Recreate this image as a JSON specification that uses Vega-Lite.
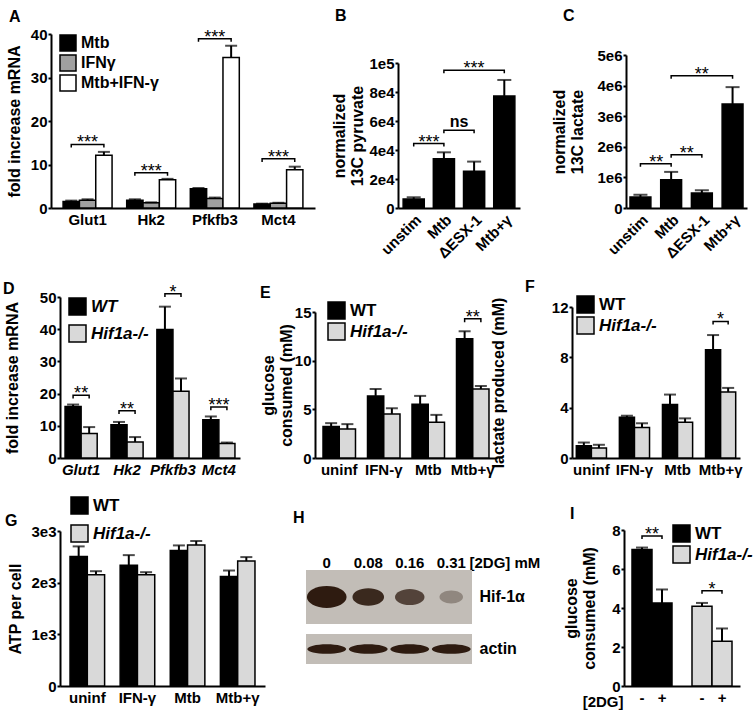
{
"$schema":"https://vega.github.io/schema/vega-lite/v6.json",
"padding":{"left":3,"top":8,"right":5,"bottom":5},
"config":{
 "view":{"stroke":null},
 "font":"Liberation Sans",
 "axis":{"labelFont":"Liberation Sans","titleFont":"Liberation Sans","labelFontSize":15,"labelFontWeight":"bold","labelColor":"black","titleFontSize":16,"titleFontWeight":"bold","titleColor":"black","domainColor":"black","domainWidth":2,"tickColor":"black","tickWidth":2,"tickSize":3,"labelPadding":1,"grid":false,"titlePadding":6,"labelOverlap":false,"titleLineHeight":18},
 "axisX":{"ticks":false,"labelPadding":4,"labelAngle":0},
 "legend":{"labelFont":"Liberation Sans","labelFontSize":16,"labelFontWeight":"bold","labelColor":"black","symbolType":"square","symbolSize":289,"symbolStrokeColor":"black","symbolStrokeWidth":1.5,"symbolOpacity":1,"orient":"none","padding":0,"labelOffset":4,"rowPadding":3,"titleFont":"Liberation Sans","titleFontSize":16,"titleFontWeight":"bold","titleColor":"black"},
 "title":{"font":"Liberation Sans","fontSize":16,"fontWeight":"bold","anchor":"start","color":"black","frame":"group"},
 "text":{"font":"Liberation Sans","color":"black"}
},
"resolve":{"scale":{"fill":"independent","xOffset":"independent","size":"independent","shape":"independent","opacity":"independent"},"legend":{"fill":"independent"}},
"spacing":19,
"vconcat":[
{"spacing":22,"resolve":{"scale":{"fill":"independent","xOffset":"independent","size":"independent","shape":"independent","opacity":"independent"},"legend":{"fill":"independent"}},"vconcat":[
{"spacing":83,"bounds":"flush","resolve":{"scale":{"fill":"independent","xOffset":"independent"},"legend":{"fill":"independent"}},"hconcat":[
 {"title":{"text":"A","offset":2,"dx":-51},"width":255,"height":174,
  "layer":[
   {"data":{"values":[
    {"gene":"Glut1","cond":"Mtb","mean":1.5,"upper":1.7},
    {"gene":"Glut1","cond":"IFNγ","mean":1.8,"upper":2.0},
    {"gene":"Glut1","cond":"Mtb+IFN-γ","mean":12.1,"upper":12.9},
    {"gene":"Hk2","cond":"Mtb","mean":1.8,"upper":2.0},
    {"gene":"Hk2","cond":"IFNγ","mean":1.2,"upper":1.3},
    {"gene":"Hk2","cond":"Mtb+IFN-γ","mean":6.5,"upper":6.7},
    {"gene":"Pfkfb3","cond":"Mtb","mean":4.4,"upper":4.6},
    {"gene":"Pfkfb3","cond":"IFNγ","mean":2.2,"upper":2.4},
    {"gene":"Pfkfb3","cond":"Mtb+IFN-γ","mean":34.6,"upper":37.3},
    {"gene":"Mct4","cond":"Mtb","mean":0.9,"upper":1.0},
    {"gene":"Mct4","cond":"IFNγ","mean":1.1,"upper":1.2},
    {"gene":"Mct4","cond":"Mtb+IFN-γ","mean":8.8,"upper":9.5}]},
    "layer":[
     {"mark":{"type":"bar","stroke":"black","strokeWidth":1.5},
      "encoding":{
       "x":{"field":"gene","type":"nominal","title":null,"scale":{"domain":["Glut1","Hk2","Pfkfb3","Mct4"],"range":[-9,255],"paddingInner":0.23,"paddingOuter":0.19}},
       "xOffset":{"field":"cond","type":"nominal","scale":{"domain":["Mtb","IFNγ","Mtb+IFN-γ"],"paddingInner":0,"paddingOuter":0}},
       "y":{"field":"mean","type":"quantitative","title":"fold increase mRNA","scale":{"domain":[0,40],"nice":false},"axis":{"values":[0,10,20,30,40],"format":"d","tickCount":20,"offset":9,"labelOverlap":false,"titleX":-29}},
       "fill":{"field":"cond","type":"nominal","scale":{"domain":["Mtb","IFNγ","Mtb+IFN-γ"],"range":["#000000","#a0a0a0","#ffffff"]},"legend":{"title":null,"legendX":-1,"legendY":0,"symbolSize":256,"rowPadding":-2}}}},
     {"mark":{"type":"rule","strokeWidth":2,"color":"black"},
      "encoding":{
       "x":{"field":"gene","type":"nominal","title":null},
       "xOffset":{"field":"cond","type":"nominal"},
       "y":{"field":"mean","type":"quantitative","title":"fold increase mRNA"},
       "y2":{"field":"upper"}}},
     {"mark":{"type":"tick","color":"black","thickness":2,"size":12},
      "encoding":{
       "x":{"field":"gene","type":"nominal","title":null},
       "xOffset":{"field":"cond","type":"nominal"},
       "y":{"field":"upper","type":"quantitative","title":"fold increase mRNA"}}}
    ]},
   {"data":{"values":[
    {"gene":"Glut1","cond":"Mtb","y":13.9,"o":1},{"gene":"Glut1","cond":"Mtb","y":14.6,"o":2},{"gene":"Glut1","cond":"Mtb+IFN-γ","y":14.6,"o":3},{"gene":"Glut1","cond":"Mtb+IFN-γ","y":13.9,"o":4},
    {"gene":"Hk2","cond":"Mtb","y":7.4,"o":1},{"gene":"Hk2","cond":"Mtb","y":8.1,"o":2},{"gene":"Hk2","cond":"Mtb+IFN-γ","y":8.1,"o":3},{"gene":"Hk2","cond":"Mtb+IFN-γ","y":7.4,"o":4},
    {"gene":"Pfkfb3","cond":"Mtb","y":38.2,"o":1},{"gene":"Pfkfb3","cond":"Mtb","y":38.9,"o":2},{"gene":"Pfkfb3","cond":"Mtb+IFN-γ","y":38.9,"o":3},{"gene":"Pfkfb3","cond":"Mtb+IFN-γ","y":38.2,"o":4},
    {"gene":"Mct4","cond":"Mtb","y":10.6,"o":1},{"gene":"Mct4","cond":"Mtb","y":11.3,"o":2},{"gene":"Mct4","cond":"Mtb+IFN-γ","y":11.3,"o":3},{"gene":"Mct4","cond":"Mtb+IFN-γ","y":10.6,"o":4}]},
    "mark":{"type":"line","color":"black","strokeWidth":1.5},
    "encoding":{
     "x":{"field":"gene","type":"nominal","title":null},
     "xOffset":{"field":"cond","type":"nominal"},
     "y":{"field":"y","type":"quantitative","title":"fold increase mRNA"},
     "detail":{"field":"gene"},
     "order":{"field":"o","type":"quantitative"}}},
   {"data":{"values":[
    {"gene":"Glut1","cond":"IFNγ","y":14.6,"lab":"***"},
    {"gene":"Hk2","cond":"IFNγ","y":8.1,"lab":"***"},
    {"gene":"Pfkfb3","cond":"IFNγ","y":38.9,"lab":"***"},
    {"gene":"Mct4","cond":"IFNγ","y":11.3,"lab":"***"}]},
    "mark":{"type":"text","fontSize":18,"baseline":"alphabetic","dy":4},
    "encoding":{
     "x":{"field":"gene","type":"nominal","title":null},
     "xOffset":{"field":"cond","type":"nominal"},
     "y":{"field":"y","type":"quantitative","title":"fold increase mRNA"},
     "text":{"field":"lab"}}}
  ]},
 {"spacing":106,"bounds":"flush","hconcat":[
  {"title":{"text":"B","offset":10,"dx":-63},"width":122,"height":174,
   "layer":[
    {"data":{"values":[
     {"cat":"unstim","mean":6200,"upper":7400},
     {"cat":"Mtb","mean":34000,"upper":38400},
     {"cat":"ΔESX-1","mean":25300,"upper":32000},
     {"cat":"Mtb+γ","mean":77300,"upper":88300}]},
     "layer":[
      {"mark":{"type":"bar","color":"black","stroke":"black","strokeWidth":1.5},
       "encoding":{
        "x":{"field":"cat","type":"nominal","title":null,"scale":{"domain":["unstim","Mtb","ΔESX-1","Mtb+γ"],"paddingInner":0.3,"paddingOuter":0.17},"axis":{"labelAngle":-45}},
        "y":{"field":"mean","type":"quantitative","title":["normalized","13C pyruvate"],"scale":{"domain":[0,100000],"nice":false,"range":[174,29]},"axis":{"values":[0,20000,40000,60000,80000,100000],"tickCount":20,"labelOverlap":false,"titleX":-51,"labelExpr":"datum.value == 0 ? '0' : datum.value >= 100000 ? '1e5' : (datum.value/10000) + 'e4'"}}}},
      {"mark":{"type":"rule","strokeWidth":2,"color":"black"},
       "encoding":{"x":{"field":"cat","type":"nominal","title":null},"y":{"field":"mean","type":"quantitative","title":["normalized","13C pyruvate"]},"y2":{"field":"upper"}}},
      {"mark":{"type":"tick","color":"black","thickness":2,"size":14},
       "encoding":{"x":{"field":"cat","type":"nominal","title":null},"y":{"field":"upper","type":"quantitative","title":["normalized","13C pyruvate"]}}}
     ]},
    {"data":{"values":[
     {"b":1,"cat":"unstim","y":42400,"o":1},{"b":1,"cat":"unstim","y":44400,"o":2},{"b":1,"cat":"Mtb","y":44400,"o":3},{"b":1,"cat":"Mtb","y":42400,"o":4},
     {"b":2,"cat":"Mtb","y":51600,"o":1},{"b":2,"cat":"Mtb","y":53600,"o":2},{"b":2,"cat":"ΔESX-1","y":53600,"o":3},{"b":2,"cat":"ΔESX-1","y":51600,"o":4},
     {"b":3,"cat":"Mtb","y":93000,"o":1},{"b":3,"cat":"Mtb","y":95000,"o":2},{"b":3,"cat":"Mtb+γ","y":95000,"o":3},{"b":3,"cat":"Mtb+γ","y":93000,"o":4}]},
     "mark":{"type":"line","color":"black","strokeWidth":1.5},
     "encoding":{"x":{"field":"cat","type":"nominal","title":null},"y":{"field":"y","type":"quantitative","title":["normalized","13C pyruvate"]},"detail":{"field":"b"},"order":{"field":"o","type":"quantitative"}}},
    {"data":{"values":[{"cat":"ΔESX-1","y":95000,"lab":"***"}]},
     "mark":{"type":"text","fontSize":18,"baseline":"alphabetic","dy":4},
     "encoding":{"x":{"field":"cat","type":"nominal","title":null},"y":{"field":"y","type":"quantitative","title":["normalized","13C pyruvate"]},"text":{"field":"lab"}}},
    {"data":{"values":[{"cat":"Mtb","y":44400,"lab":"***"}]},
     "mark":{"type":"text","fontSize":18,"baseline":"alphabetic","dy":4,"dx":-15},
     "encoding":{"x":{"field":"cat","type":"nominal","title":null},"y":{"field":"y","type":"quantitative","title":["normalized","13C pyruvate"]},"text":{"field":"lab"}}},
    {"data":{"values":[{"cat":"ΔESX-1","y":53600,"lab":"ns"}]},
     "mark":{"type":"text","fontSize":16,"fontWeight":"bold","baseline":"alphabetic","dy":-3,"dx":-15},
     "encoding":{"x":{"field":"cat","type":"nominal","title":null},"y":{"field":"y","type":"quantitative","title":["normalized","13C pyruvate"]},"text":{"field":"lab"}}}
   ]},
  {"title":{"text":"C","offset":10,"dx":-63},"width":121,"height":174,
   "layer":[
    {"data":{"values":[
     {"cat":"unstim","mean":360000,"upper":430000},
     {"cat":"Mtb","mean":920000,"upper":1180000},
     {"cat":"ΔESX-1","mean":490000,"upper":580000},
     {"cat":"Mtb+γ","mean":3400000,"upper":3950000}]},
     "layer":[
      {"mark":{"type":"bar","color":"black","stroke":"black","strokeWidth":1.5},
       "encoding":{
        "x":{"field":"cat","type":"nominal","title":null,"scale":{"domain":["unstim","Mtb","ΔESX-1","Mtb+γ"],"paddingInner":0.32,"paddingOuter":0.13},"axis":{"labelAngle":-45}},
        "y":{"field":"mean","type":"quantitative","title":["normalized","13C lactate"],"scale":{"domain":[0,5000000],"nice":false,"range":[174,21]},"axis":{"values":[0,1000000,2000000,3000000,4000000,5000000],"tickCount":20,"labelOverlap":false,"titleX":-59,"labelExpr":"datum.value == 0 ? '0' : (datum.value/1000000) + 'e6'"}}}},
      {"mark":{"type":"rule","strokeWidth":2,"color":"black"},
       "encoding":{"x":{"field":"cat","type":"nominal","title":null},"y":{"field":"mean","type":"quantitative","title":["normalized","13C lactate"]},"y2":{"field":"upper"}}},
      {"mark":{"type":"tick","color":"black","thickness":2,"size":14},
       "encoding":{"x":{"field":"cat","type":"nominal","title":null},"y":{"field":"upper","type":"quantitative","title":["normalized","13C lactate"]}}}
     ]},
    {"data":{"values":[
     {"b":1,"cat":"unstim","y":1350000,"o":1},{"b":1,"cat":"unstim","y":1450000,"o":2},{"b":1,"cat":"Mtb","y":1450000,"o":3},{"b":1,"cat":"Mtb","y":1350000,"o":4},
     {"b":2,"cat":"Mtb","y":1640000,"o":1},{"b":2,"cat":"Mtb","y":1740000,"o":2},{"b":2,"cat":"ΔESX-1","y":1740000,"o":3},{"b":2,"cat":"ΔESX-1","y":1640000,"o":4},
     {"b":3,"cat":"Mtb","y":4220000,"o":1},{"b":3,"cat":"Mtb","y":4320000,"o":2},{"b":3,"cat":"Mtb+γ","y":4320000,"o":3},{"b":3,"cat":"Mtb+γ","y":4220000,"o":4}]},
     "mark":{"type":"line","color":"black","strokeWidth":1.5},
     "encoding":{"x":{"field":"cat","type":"nominal","title":null},"y":{"field":"y","type":"quantitative","title":["normalized","13C lactate"]},"detail":{"field":"b"},"order":{"field":"o","type":"quantitative"}}},
    {"data":{"values":[{"cat":"ΔESX-1","y":4320000,"lab":"**"}]},
     "mark":{"type":"text","fontSize":18,"baseline":"alphabetic","dy":4},
     "encoding":{"x":{"field":"cat","type":"nominal","title":null},"y":{"field":"y","type":"quantitative","title":["normalized","13C lactate"]},"text":{"field":"lab"}}},
    {"data":{"values":[{"cat":"Mtb","y":1450000,"lab":"**"},{"cat":"ΔESX-1","y":1740000,"lab":"**"}]},
     "mark":{"type":"text","fontSize":18,"baseline":"alphabetic","dy":4,"dx":-15},
     "encoding":{"x":{"field":"cat","type":"nominal","title":null},"y":{"field":"y","type":"quantitative","title":["normalized","13C lactate"]},"text":{"field":"lab"}}}
   ]}
 ]}
]},
{"spacing":75,"bounds":"flush","resolve":{"scale":{"fill":"independent","xOffset":"independent"},"legend":{"fill":"independent"}},"hconcat":[
 {"width":180,"height":161,
  "layer":[
   {"data":{"values":[
    {"gene":"Glut1","geno":"WT","mean":16.0,"upper":16.6},
    {"gene":"Glut1","geno":"Hif1a-/-","mean":7.6,"upper":9.6},
    {"gene":"Hk2","geno":"WT","mean":10.3,"upper":11.2},
    {"gene":"Hk2","geno":"Hif1a-/-","mean":5.0,"upper":6.5},
    {"gene":"Pfkfb3","geno":"WT","mean":39.9,"upper":47.0},
    {"gene":"Pfkfb3","geno":"Hif1a-/-","mean":20.7,"upper":24.7},
    {"gene":"Mct4","geno":"WT","mean":11.9,"upper":12.9},
    {"gene":"Mct4","geno":"Hif1a-/-","mean":4.5,"upper":4.8}]},
    "layer":[
     {"mark":{"type":"bar","stroke":"black","strokeWidth":1.5},
      "encoding":{
       "x":{"field":"gene","type":"nominal","title":null,"scale":{"domain":["Glut1","Hk2","Pfkfb3","Mct4"],"paddingInner":0.3,"paddingOuter":0.11},"axis":{"labelFontStyle":"italic"}},
       "xOffset":{"field":"geno","type":"nominal","scale":{"domain":["WT","Hif1a-/-"],"paddingInner":0,"paddingOuter":0}},
       "y":{"field":"mean","type":"quantitative","title":"fold increase mRNA","scale":{"domain":[0,50],"nice":false},"axis":{"values":[0,10,20,30,40,50],"format":"d","tickCount":20,"labelOverlap":false,"titleX":-40}},
       "fill":{"field":"geno","type":"nominal","scale":{"domain":["WT","Hif1a-/-"],"range":["#000000","#d9d9d9"]},"legend":{"title":"D","titleOrient":"left","titleAnchor":"start","titleBaseline":"bottom","titlePadding":53,"legendX":-57,"legendY":0,"labelFontStyle":"italic","labelFontSize":17,"rowPadding":4}}}},
     {"mark":{"type":"rule","strokeWidth":2,"color":"black"},
      "encoding":{"x":{"field":"gene","type":"nominal","title":null},"xOffset":{"field":"geno","type":"nominal"},"y":{"field":"mean","type":"quantitative","title":"fold increase mRNA"},"y2":{"field":"upper"}}},
     {"mark":{"type":"tick","color":"black","thickness":2,"size":12},
      "encoding":{"x":{"field":"gene","type":"nominal","title":null},"xOffset":{"field":"geno","type":"nominal"},"y":{"field":"upper","type":"quantitative","title":"fold increase mRNA"}}}
    ]},
   {"data":{"values":[
    {"gene":"Glut1","geno":"WT","y":18.5,"o":1},{"gene":"Glut1","geno":"WT","y":19.5,"o":2},{"gene":"Glut1","geno":"Hif1a-/-","y":19.5,"o":3},{"gene":"Glut1","geno":"Hif1a-/-","y":18.5,"o":4},
    {"gene":"Hk2","geno":"WT","y":13.7,"o":1},{"gene":"Hk2","geno":"WT","y":14.7,"o":2},{"gene":"Hk2","geno":"Hif1a-/-","y":14.7,"o":3},{"gene":"Hk2","geno":"Hif1a-/-","y":13.7,"o":4},
    {"gene":"Pfkfb3","geno":"WT","y":50.0,"o":1},{"gene":"Pfkfb3","geno":"WT","y":51.0,"o":2},{"gene":"Pfkfb3","geno":"Hif1a-/-","y":51.0,"o":3},{"gene":"Pfkfb3","geno":"Hif1a-/-","y":50.0,"o":4},
    {"gene":"Mct4","geno":"WT","y":14.8,"o":1},{"gene":"Mct4","geno":"WT","y":15.8,"o":2},{"gene":"Mct4","geno":"Hif1a-/-","y":15.8,"o":3},{"gene":"Mct4","geno":"Hif1a-/-","y":14.8,"o":4}]},
    "mark":{"type":"line","color":"black","strokeWidth":1.5},
    "encoding":{"x":{"field":"gene","type":"nominal","title":null},"xOffset":{"field":"geno","type":"nominal"},"y":{"field":"y","type":"quantitative","title":"fold increase mRNA"},"detail":{"field":"gene"},"order":{"field":"o","type":"quantitative"}}},
   {"data":{"values":[
    {"gene":"Glut1","y":19.5,"lab":"**"},{"gene":"Hk2","y":14.7,"lab":"**"},{"gene":"Pfkfb3","y":51.0,"lab":"*"},{"gene":"Mct4","y":15.8,"lab":"***"}]},
    "mark":{"type":"text","fontSize":18,"baseline":"alphabetic","dy":4},
    "encoding":{"x":{"field":"gene","type":"nominal","title":null},"y":{"field":"y","type":"quantitative","title":"fold increase mRNA"},"text":{"field":"lab"}}}
  ]},
 {"width":182,"height":161,
  "layer":[
   {"data":{"values":[
    {"cond":"uninf","geno":"WT","mean":3.24,"upper":3.58},
    {"cond":"uninf","geno":"Hif1a-/-","mean":2.97,"upper":3.48},
    {"cond":"IFN-γ","geno":"WT","mean":6.38,"upper":7.09},
    {"cond":"IFN-γ","geno":"Hif1a-/-","mean":4.53,"upper":5.11},
    {"cond":"Mtb","geno":"WT","mean":5.52,"upper":6.38},
    {"cond":"Mtb","geno":"Hif1a-/-","mean":3.68,"upper":4.43},
    {"cond":"Mtb+γ","geno":"WT","mean":12.24,"upper":13.02},
    {"cond":"Mtb+γ","geno":"Hif1a-/-","mean":7.09,"upper":7.4}]},
    "layer":[
     {"mark":{"type":"bar","stroke":"black","strokeWidth":1.5},
      "encoding":{
       "x":{"field":"cond","type":"nominal","title":null,"scale":{"domain":["uninf","IFN-γ","Mtb","Mtb+γ"],"paddingInner":0.27,"paddingOuter":0.18}},
       "xOffset":{"field":"geno","type":"nominal","scale":{"domain":["WT","Hif1a-/-"],"paddingInner":0,"paddingOuter":0}},
       "y":{"field":"mean","type":"quantitative","title":["glucose","consumed (mM)"],"scale":{"domain":[0,15],"nice":false,"range":[161,15]},"axis":{"values":[0,5,10,15],"format":"d","tickCount":20,"labelOverlap":false,"titleX":-39}},
       "fill":{"field":"geno","type":"nominal","scale":{"domain":["WT","Hif1a-/-"],"range":["#000000","#d9d9d9"]},"legend":{"title":"E","titleOrient":"left","titleAnchor":"start","titleBaseline":"bottom","titlePadding":56,"legendX":-55,"legendY":4,"labelFontStyle":{"expr":"datum.label === 'WT' ? 'normal' : 'italic'"},"labelFontSize":17,"rowPadding":-2}}}},
     {"mark":{"type":"rule","strokeWidth":2,"color":"black"},
      "encoding":{"x":{"field":"cond","type":"nominal","title":null},"xOffset":{"field":"geno","type":"nominal"},"y":{"field":"mean","type":"quantitative","title":["glucose","consumed (mM)"]},"y2":{"field":"upper"}}},
     {"mark":{"type":"tick","color":"black","thickness":2,"size":12},
      "encoding":{"x":{"field":"cond","type":"nominal","title":null},"xOffset":{"field":"geno","type":"nominal"},"y":{"field":"upper","type":"quantitative","title":["glucose","consumed (mM)"]}}}
    ]},
   {"data":{"values":[
    {"cond":"Mtb+γ","geno":"WT","y":13.95,"o":1},{"cond":"Mtb+γ","geno":"WT","y":14.3,"o":2},{"cond":"Mtb+γ","geno":"Hif1a-/-","y":14.3,"o":3},{"cond":"Mtb+γ","geno":"Hif1a-/-","y":13.95,"o":4}]},
    "mark":{"type":"line","color":"black","strokeWidth":1.5},
    "encoding":{"x":{"field":"cond","type":"nominal","title":null},"xOffset":{"field":"geno","type":"nominal"},"y":{"field":"y","type":"quantitative","title":["glucose","consumed (mM)"]},"detail":{"field":"cond"},"order":{"field":"o","type":"quantitative"}}},
   {"data":{"values":[{"cond":"Mtb+γ","y":14.3,"lab":"**"}]},
    "mark":{"type":"text","fontSize":18,"baseline":"alphabetic","dy":4},
    "encoding":{"x":{"field":"cond","type":"nominal","title":null},"y":{"field":"y","type":"quantitative","title":["glucose","consumed (mM)"]},"text":{"field":"lab"}}}
  ]},
 {"width":168,"height":161,
  "layer":[
   {"data":{"values":[
    {"cond":"uninf","geno":"WT","mean":0.97,"upper":1.23},
    {"cond":"uninf","geno":"Hif1a-/-","mean":0.79,"upper":1.05},
    {"cond":"IFN-γ","geno":"WT","mean":3.23,"upper":3.36},
    {"cond":"IFN-γ","geno":"Hif1a-/-","mean":2.42,"upper":2.76},
    {"cond":"Mtb","geno":"WT","mean":4.25,"upper":5.04},
    {"cond":"Mtb","geno":"Hif1a-/-","mean":2.84,"upper":3.15},
    {"cond":"Mtb+γ","geno":"WT","mean":8.61,"upper":9.77},
    {"cond":"Mtb+γ","geno":"Hif1a-/-","mean":5.25,"upper":5.57}]},
    "layer":[
     {"mark":{"type":"bar","stroke":"black","strokeWidth":1.5},
      "encoding":{
       "x":{"field":"cond","type":"nominal","title":null,"scale":{"domain":["uninf","IFN-γ","Mtb","Mtb+γ"],"paddingInner":0.3,"paddingOuter":0.1}},
       "xOffset":{"field":"geno","type":"nominal","scale":{"domain":["WT","Hif1a-/-"],"paddingInner":0,"paddingOuter":0}},
       "y":{"field":"mean","type":"quantitative","title":"lactate produced (mM)","scale":{"domain":[0,12],"nice":false,"range":[161,10]},"axis":{"values":[0,4,8,12],"format":"d","tickCount":20,"labelOverlap":false,"titleX":-66}},
       "fill":{"field":"geno","type":"nominal","scale":{"domain":["WT","Hif1a-/-"],"range":["#000000","#d9d9d9"]},"legend":{"title":"F","titleOrient":"left","titleAnchor":"start","titleBaseline":"bottom","titlePadding":41,"legendX":-47,"legendY":-2,"labelFontStyle":{"expr":"datum.label === 'WT' ? 'normal' : 'italic'"},"labelFontSize":17,"rowPadding":-2}}}},
     {"mark":{"type":"rule","strokeWidth":2,"color":"black"},
      "encoding":{"x":{"field":"cond","type":"nominal","title":null},"xOffset":{"field":"geno","type":"nominal"},"y":{"field":"mean","type":"quantitative","title":"lactate produced (mM)"},"y2":{"field":"upper"}}},
     {"mark":{"type":"tick","color":"black","thickness":2,"size":12},
      "encoding":{"x":{"field":"cond","type":"nominal","title":null},"xOffset":{"field":"geno","type":"nominal"},"y":{"field":"upper","type":"quantitative","title":"lactate produced (mM)"}}}
    ]},
   {"data":{"values":[
    {"cond":"Mtb+γ","geno":"WT","y":10.6,"o":1},{"cond":"Mtb+γ","geno":"WT","y":10.85,"o":2},{"cond":"Mtb+γ","geno":"Hif1a-/-","y":10.85,"o":3},{"cond":"Mtb+γ","geno":"Hif1a-/-","y":10.6,"o":4}]},
    "mark":{"type":"line","color":"black","strokeWidth":1.5},
    "encoding":{"x":{"field":"cond","type":"nominal","title":null},"xOffset":{"field":"geno","type":"nominal"},"y":{"field":"y","type":"quantitative","title":"lactate produced (mM)"},"detail":{"field":"cond"},"order":{"field":"o","type":"quantitative"}}},
   {"data":{"values":[{"cond":"Mtb+γ","y":10.85,"lab":"*"}]},
    "mark":{"type":"text","fontSize":18,"baseline":"alphabetic","dy":4},
    "encoding":{"x":{"field":"cond","type":"nominal","title":null},"y":{"field":"y","type":"quantitative","title":"lactate produced (mM)"},"text":{"field":"lab"}}}
  ]}
]}
]},
{"spacing":41,"bounds":"flush","resolve":{"scale":{"fill":"independent","xOffset":"independent","size":"independent","shape":"independent","opacity":"independent"},"legend":{"fill":"independent"}},"hconcat":[
 {"width":205,"height":156,
  "layer":[
   {"data":{"values":[
    {"cond":"uninf","geno":"WT","mean":2508,"upper":2702},
    {"cond":"uninf","geno":"Hif1a-/-","mean":2151,"upper":2222},
    {"cond":"IFN-γ","geno":"WT","mean":2339,"upper":2533},
    {"cond":"IFN-γ","geno":"Hif1a-/-","mean":2151,"upper":2203},
    {"cond":"Mtb","geno":"WT","mean":2624,"upper":2721},
    {"cond":"Mtb","geno":"Hif1a-/-","mean":2728,"upper":2806},
    {"cond":"Mtb+γ","geno":"WT","mean":2119,"upper":2235},
    {"cond":"Mtb+γ","geno":"Hif1a-/-","mean":2417,"upper":2495}]},
    "layer":[
     {"mark":{"type":"bar","stroke":"black","strokeWidth":1.5},
      "encoding":{
       "x":{"field":"cond","type":"nominal","title":null,"scale":{"domain":["uninf","IFN-γ","Mtb","Mtb+γ"],"paddingInner":0.31,"paddingOuter":0.2}},
       "xOffset":{"field":"geno","type":"nominal","scale":{"domain":["WT","Hif1a-/-"],"paddingInner":0,"paddingOuter":0}},
       "y":{"field":"mean","type":"quantitative","title":"ATP per cell","scale":{"domain":[0,3000],"nice":false,"range":[156,1]},"axis":{"values":[0,1000,2000,3000],"tickCount":20,"labelOverlap":false,"titleX":-37,"labelExpr":"datum.value == 0 ? '0' : (datum.value/1000) + 'e3'"}},
       "fill":{"field":"geno","type":"nominal","scale":{"domain":["WT","Hif1a-/-"],"range":["#000000","#d9d9d9"]},"legend":{"title":"G","titleOrient":"left","titlePadding":52,"titleAnchor":"middle","titleBaseline":"middle","legendX":-55,"legendY":-34,"labelFontStyle":{"expr":"datum.label === 'WT' ? 'normal' : 'italic'"},"labelFontSize":17,"rowPadding":5}}}},
     {"mark":{"type":"rule","strokeWidth":2,"color":"black"},
      "encoding":{"x":{"field":"cond","type":"nominal","title":null},"xOffset":{"field":"geno","type":"nominal"},"y":{"field":"mean","type":"quantitative","title":"ATP per cell"},"y2":{"field":"upper"}}},
     {"mark":{"type":"tick","color":"black","thickness":2,"size":12},
      "encoding":{"x":{"field":"cond","type":"nominal","title":null},"xOffset":{"field":"geno","type":"nominal"},"y":{"field":"upper","type":"quantitative","title":"ATP per cell"}}}
    ]}
  ]},
 {"spacing":152,"bounds":"flush","resolve":{"scale":{"fill":"independent","xOffset":"independent","size":"independent","shape":"independent","opacity":"independent"},"legend":{"fill":"independent"}},"hconcat":[
  {"title":{"text":"H","offset":4,"dx":-13},"width":166,"height":156,
   "layer":[
    {"data":{"values":[{"row":"Hif-1α"}]},
     "mark":{"type":"rect","height":54,"color":"#c2bdb7"},
     "encoding":{"y":{"field":"row","type":"nominal","title":null,"scale":{"type":"band","domain":["Hif-1α","actin"],"range":[41,145],"paddingInner":0,"paddingOuter":0},"axis":{"orient":"right","domain":false,"ticks":false,"labelPadding":7,"labelFontSize":16}}}},
    {"data":{"values":[{"row":"actin"}]},
     "mark":{"type":"rect","height":30,"color":"#c2bdb7"},
     "encoding":{"y":{"field":"row","type":"nominal","title":null}}},
    {"data":{"values":[
     {"dose":"0","row":"Hif-1α","signal":100},
     {"dose":"0.08","row":"Hif-1α","signal":55},
     {"dose":"0.16","row":"Hif-1α","signal":45},
     {"dose":"0.31","row":"Hif-1α","signal":20},
     {"dose":"0","row":"actin","signal":95},
     {"dose":"0.08","row":"actin","signal":95},
     {"dose":"0.16","row":"actin","signal":95},
     {"dose":"0.31","row":"actin","signal":95}]},
     "mark":{"type":"point","filled":true,"color":"#2e1b10","strokeWidth":0},
     "encoding":{
      "x":{"field":"dose","type":"nominal","title":"[2DG] mM","scale":{"type":"band","domain":["0","0.08","0.16","0.31"],"paddingInner":0,"paddingOuter":0},"axis":{"orient":"top","domain":false,"ticks":false,"labelPadding":0,"offset":-40,"titleX":163,"titleY":0,"titleAlign":"left","titleBaseline":"bottom","titleAngle":0,"titleFontSize":15}},
      "y":{"field":"row","type":"nominal","title":null},
      "size":{"field":"signal","type":"quantitative","scale":{"domain":[0,110],"range":[300,1700]},"legend":null},
      "shape":{"field":"row","type":"nominal","scale":{"domain":["Hif-1α","actin"],"range":["M-1,0A1,0.55,0,1,0,1,0A1,0.55,0,1,0,-1,0Z","M-1,0A1,0.25,0,1,0,1,0A1,0.25,0,1,0,-1,0Z"]},"legend":null},
      "opacity":{"field":"signal","type":"quantitative","scale":{"domain":[15,60],"range":[0.25,1],"clamp":true},"legend":null}}}
   ]},
  {"title":{"text":"I","offset":1,"dx":-54},"width":116,"height":156,
   "layer":[
    {"data":{"values":[
     {"bar":"WT -","geno":"WT","mean":7.0,"upper":7.1},
     {"bar":"WT +","geno":"WT","mean":4.26,"upper":4.95},
     {"bar":"Hif -","geno":"Hif1a-/-","mean":4.09,"upper":4.26},
     {"bar":"Hif +","geno":"Hif1a-/-","mean":2.29,"upper":2.95}]},
     "layer":[
      {"mark":{"type":"bar","stroke":"black","strokeWidth":1.5},
       "encoding":{
        "x":{"field":"bar","type":"nominal","title":"[2DG]","scale":{"domain":["WT -","WT +","gap","Hif -","Hif +"],"paddingInner":0,"paddingOuter":0.4},"axis":{"labelExpr":"datum.label == 'gap' ? '' : (indexof(datum.label, '+') >= 0 ? '+' : '-')","titleX":-1,"titleY":15,"titleAlign":"right","titleBaseline":"middle","titleAngle":0,"titleFontSize":15}},
        "y":{"field":"mean","type":"quantitative","title":["glucose","consumed (mM)"],"scale":{"domain":[0,8],"nice":false},"axis":{"values":[0,2,4,6,8],"format":"d","tickCount":20,"labelOverlap":false,"titleX":-45}},
        "fill":{"field":"geno","type":"nominal","scale":{"domain":["WT","Hif1a-/-"],"range":["#000000","#d9d9d9"]},"legend":{"title":null,"legendX":48,"legendY":-6,"labelFontStyle":{"expr":"datum.label === 'WT' ? 'normal' : 'italic'"},"labelFontSize":17,"rowPadding":-3}}}},
      {"mark":{"type":"rule","strokeWidth":2,"color":"black"},
       "encoding":{"x":{"field":"bar","type":"nominal","title":"[2DG]"},"y":{"field":"mean","type":"quantitative","title":["glucose","consumed (mM)"]},"y2":{"field":"upper"}}},
      {"mark":{"type":"tick","color":"black","thickness":2,"size":12},
       "encoding":{"x":{"field":"bar","type":"nominal","title":"[2DG]"},"y":{"field":"upper","type":"quantitative","title":["glucose","consumed (mM)"]}}}
     ]},
    {"data":{"values":[
     {"b":1,"bar":"WT -","y":7.54,"o":1},{"b":1,"bar":"WT -","y":7.69,"o":2},{"b":1,"bar":"WT +","y":7.69,"o":3},{"b":1,"bar":"WT +","y":7.54,"o":4},
     {"b":2,"bar":"Hif -","y":4.73,"o":1},{"b":2,"bar":"Hif -","y":4.88,"o":2},{"b":2,"bar":"Hif +","y":4.88,"o":3},{"b":2,"bar":"Hif +","y":4.73,"o":4}]},
     "mark":{"type":"line","color":"black","strokeWidth":1.5},
     "encoding":{"x":{"field":"bar","type":"nominal","title":"[2DG]"},"y":{"field":"y","type":"quantitative","title":["glucose","consumed (mM)"]},"detail":{"field":"b"},"order":{"field":"o","type":"quantitative"}}},
    {"data":{"values":[{"bar":"WT +","y":7.69,"lab":"**"},{"bar":"Hif +","y":4.88,"lab":"*"}]},
     "mark":{"type":"text","fontSize":18,"baseline":"alphabetic","dy":4},
     "encoding":{"x":{"field":"bar","type":"nominal","title":"[2DG]","bandPosition":0},"y":{"field":"y","type":"quantitative","title":["glucose","consumed (mM)"]},"text":{"field":"lab"}}}
   ]}
 ]}
]}
]
}
